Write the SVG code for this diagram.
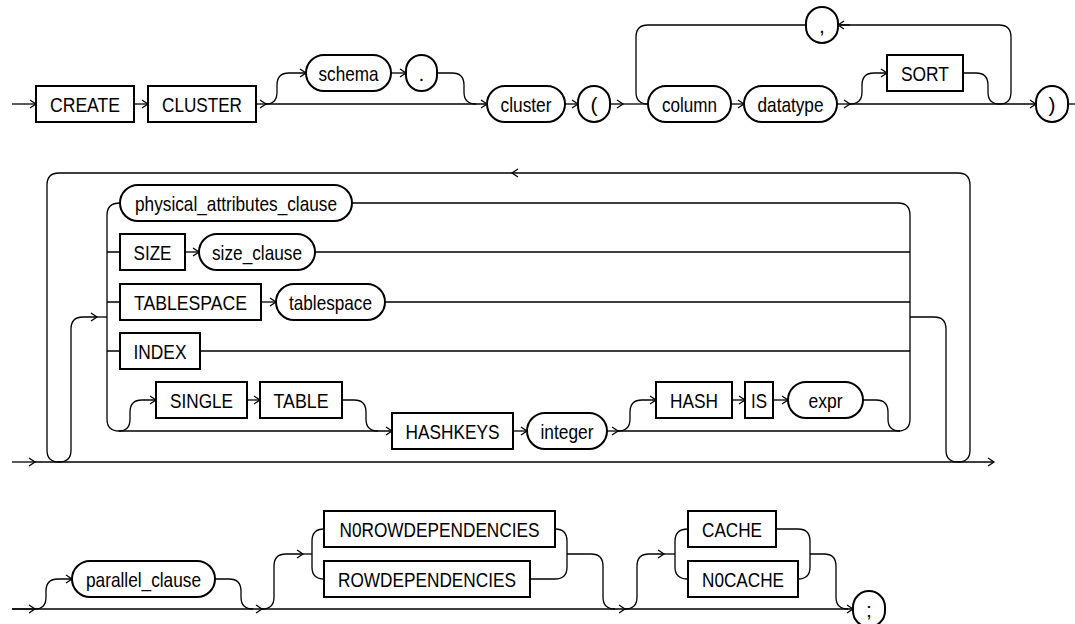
<svg xmlns="http://www.w3.org/2000/svg" width="1075" height="624" viewBox="0 0 1075 624">
<style>
.b{fill:#fff;stroke:#000;stroke-width:2}
.l{fill:none;stroke:#000;stroke-width:1.3}
.a{fill:none;stroke:#000;stroke-width:1.3;marker-end:url(#ar)}
text{font-family:"Liberation Sans Narrow","Liberation Sans",Arial,sans-serif;font-size:21px;text-anchor:middle;fill:#000}
</style>
<defs>
<marker id="ar" markerUnits="userSpaceOnUse" markerWidth="10" markerHeight="10" refX="7" refY="5" orient="auto">
<path d="M1,1 L7,5 L1,9" fill="none" stroke="#000" stroke-width="1.3"/>
</marker>
</defs>
<rect width="1075" height="624" fill="#fff"/>
<g id="connectors">
<!-- row 1 -->
<path class="a" d="M12,104 H36"/>
<path class="a" d="M134,104 H148"/>
<path class="a" d="M256,104 H266"/>
<path class="a" d="M266,104 H487"/>
<path class="a" d="M266,104 Q277,104 277,92 V85 Q277,73 289,73 H306"/>
<path class="a" d="M391,73 H406"/>
<path class="l" d="M437,73 H452 Q464,73 464,85 V92 Q464,104 476,104"/>
<path class="a" d="M565,104 H578"/>
<path class="a" d="M610,104 H623"/>
<path class="l" d="M623,104 H648"/>
<path class="l" d="M963,73 H976 Q988,73 988,85 V92 Q988,104 999.5,104 Q1011,104 1011,92 V37 Q1011,25 999,25 H840"/>
<path class="a" d="M850,25 H838"/>
<path class="l" d="M806,25 H648 Q636,25 636,37 V92 Q636,104 648,104"/>
<path class="a" d="M731,104 H744"/>
<path class="a" d="M837,104 H850"/>
<path class="a" d="M850,104 H1036"/>
<path class="a" d="M850,104 Q862,104 862,92 V85 Q862,73 874,73 H887"/>
<path class="l" d="M1068,104 H1075"/>
<!-- row 2 -->
<path class="a" d="M12,462 H35"/>
<path class="a" d="M35,462 H994"/>
<path class="a" d="M910,317 H934 Q946,317 946,329 V450 Q946,462 958,462 Q970,462 970,450 V185 Q970,173 958,173 H512"/>
<path class="a" d="M512,173 H59 Q47,173 47,185 V450 Q47,462 59,462 Q71,462 71,450 V329 Q71,317 83,317 H97"/>
<path class="l" d="M97,317 H107"/>
<path class="a" d="M120,203 Q107,203 107,215 V419 Q107,431 119,431 H392"/>
<path class="l" d="M107,252 H120 M107,302 H120 M107,351 H120"/>
<path class="l" d="M352,203 H898 Q910,203 910,215 V419 Q910,431 898,431 H618"/>
<path class="l" d="M315,252 H910 M385,302 H910 M200,351 H910"/>
<path class="a" d="M185,252 H199"/>
<path class="a" d="M261,302 H276"/>
<path class="a" d="M119,431 Q130,431 130,419 V412 Q130,400 142,400 H156"/>
<path class="a" d="M247,400 H260"/>
<path class="l" d="M342,400 H354 Q366,400 366,412 V419 Q366,431 378,431"/>
<path class="a" d="M513,431 H527"/>
<path class="a" d="M607,431 H618"/>
<path class="a" d="M618,431 Q630,431 630,419 V412 Q630,400 642,400 H656"/>
<path class="a" d="M732,400 H745"/>
<path class="a" d="M773,400 H788"/>
<path class="l" d="M863,400 H876 Q888,400 888,412 V419 Q888,431 900,431"/>
<!-- row 3 -->
<path class="a" d="M12,609 H35" style="stroke-width:1.8"/>
<path class="a" d="M35,609 H262"/>
<path class="a" d="M262,609 H625"/>
<path class="a" d="M625,609 H853"/>
<path class="a" d="M35,609 Q46,609 46,597 V591 Q46,579 58,579 H72"/>
<path class="l" d="M215,579 H229 Q241,579 241,591 V597 Q241,609 253,609"/>
<path class="a" d="M262,609 Q274,609 274,597 V566 Q274,554 286,554 H303"/>
<path class="l" d="M303,554 H312"/>
<path class="l" d="M324,529 Q312,529 312,541 V567 Q312,579 324,579"/>
<path class="l" d="M555,529 Q567,529 567,541 V567 Q567,579 555,579 H530"/>
<path class="l" d="M567,554 H591 Q603,554 603,566 V597 Q603,609 615,609"/>
<path class="a" d="M625,609 Q637,609 637,597 V566 Q637,554 649,554 H664"/>
<path class="l" d="M664,554 H675"/>
<path class="l" d="M688,529 Q675,529 675,541 V567 Q675,579 688,579"/>
<path class="l" d="M776,529 H798 Q810,529 810,541 V567 Q810,579 798,579"/>
<path class="l" d="M810,554 H824 Q836,554 836,566 V597 Q836,609 848,609"/>
</g>
<g id="n_create"><rect class="b" x="36" y="86" width="98" height="36"/><text x="85" y="111.5" textLength="70" lengthAdjust="spacingAndGlyphs">CREATE</text></g>
<g id="n_cluster_kw"><rect class="b" x="148" y="86" width="108" height="36"/><text x="202" y="111.5" textLength="80" lengthAdjust="spacingAndGlyphs">CLUSTER</text></g>
<g id="n_schema"><rect class="b" x="306" y="55" width="85" height="36" rx="18"/><text x="348.5" y="80.5" textLength="60" lengthAdjust="spacingAndGlyphs">schema</text></g>
<g id="n_dot"><rect class="b" x="406" y="55" width="31" height="36" rx="15.5"/><text x="421.5" y="80.5">.</text></g>
<g id="n_cluster"><rect class="b" x="487" y="86" width="78" height="36" rx="18"/><text x="526" y="111.5" textLength="51" lengthAdjust="spacingAndGlyphs">cluster</text></g>
<g id="n_lparen"><rect class="b" x="578" y="86" width="32" height="36" rx="16"/><text x="594" y="111.5">(</text></g>
<g id="n_column"><rect class="b" x="648" y="86" width="83" height="36" rx="18"/><text x="689.5" y="111.5" textLength="55" lengthAdjust="spacingAndGlyphs">column</text></g>
<g id="n_datatype"><rect class="b" x="744" y="86" width="93" height="36" rx="18"/><text x="790.5" y="111.5" textLength="66" lengthAdjust="spacingAndGlyphs">datatype</text></g>
<g id="n_sort"><rect class="b" x="887" y="55" width="76" height="36"/><text x="925" y="80.5" textLength="48" lengthAdjust="spacingAndGlyphs">SORT</text></g>
<g id="n_comma"><rect class="b" x="806" y="7" width="32" height="36" rx="16"/><text x="822" y="32.5">,</text></g>
<g id="n_rparen"><rect class="b" x="1036" y="86" width="32" height="36" rx="16"/><text x="1052" y="111.5">)</text></g>
<g id="n_physical"><rect class="b" x="120" y="185" width="232" height="36" rx="18"/><text x="236" y="210.5" textLength="202" lengthAdjust="spacingAndGlyphs">physical_attributes_clause</text></g>
<g id="n_size"><rect class="b" x="120" y="234" width="65" height="36"/><text x="152.5" y="259.5" textLength="38" lengthAdjust="spacingAndGlyphs">SIZE</text></g>
<g id="n_size_clause"><rect class="b" x="199" y="234" width="116" height="36" rx="18"/><text x="257" y="259.5" textLength="90" lengthAdjust="spacingAndGlyphs">size_clause</text></g>
<g id="n_tablespace_kw"><rect class="b" x="120" y="284" width="141" height="36"/><text x="190.5" y="309.5" textLength="113" lengthAdjust="spacingAndGlyphs">TABLESPACE</text></g>
<g id="n_tablespace"><rect class="b" x="276" y="284" width="109" height="36" rx="18"/><text x="330.5" y="309.5" textLength="83" lengthAdjust="spacingAndGlyphs">tablespace</text></g>
<g id="n_index"><rect class="b" x="120" y="333" width="80" height="36"/><text x="160" y="358.5" textLength="53" lengthAdjust="spacingAndGlyphs">INDEX</text></g>
<g id="n_single"><rect class="b" x="156" y="382" width="91" height="36"/><text x="201.5" y="407.5" textLength="63" lengthAdjust="spacingAndGlyphs">SINGLE</text></g>
<g id="n_table"><rect class="b" x="260" y="382" width="82" height="36"/><text x="301" y="407.5" textLength="55" lengthAdjust="spacingAndGlyphs">TABLE</text></g>
<g id="n_hashkeys"><rect class="b" x="392" y="413" width="121" height="36"/><text x="452.5" y="438.5" textLength="94" lengthAdjust="spacingAndGlyphs">HASHKEYS</text></g>
<g id="n_integer"><rect class="b" x="527" y="413" width="80" height="36" rx="18"/><text x="567" y="438.5" textLength="53" lengthAdjust="spacingAndGlyphs">integer</text></g>
<g id="n_hash"><rect class="b" x="656" y="382" width="76" height="36"/><text x="694" y="407.5" textLength="48" lengthAdjust="spacingAndGlyphs">HASH</text></g>
<g id="n_is"><rect class="b" x="745" y="382" width="28" height="36"/><text x="759" y="407.5" textLength="16" lengthAdjust="spacingAndGlyphs">IS</text></g>
<g id="n_expr"><rect class="b" x="788" y="382" width="75" height="36" rx="18"/><text x="825.5" y="407.5" textLength="34" lengthAdjust="spacingAndGlyphs">expr</text></g>
<g id="n_parallel"><rect class="b" x="72" y="561" width="143" height="36" rx="18"/><text x="143.5" y="586.5" textLength="115" lengthAdjust="spacingAndGlyphs">parallel_clause</text></g>
<g id="n_norowdep"><rect class="b" x="324" y="511" width="231" height="36"/><text x="439.5" y="536.5" textLength="200" lengthAdjust="spacingAndGlyphs">N0ROWDEPENDENCIES</text></g>
<g id="n_rowdep"><rect class="b" x="324" y="561" width="206" height="36"/><text x="427" y="586.5" textLength="178" lengthAdjust="spacingAndGlyphs">ROWDEPENDENCIES</text></g>
<g id="n_cache"><rect class="b" x="688" y="511" width="88" height="36"/><text x="732" y="536.5" textLength="60" lengthAdjust="spacingAndGlyphs">CACHE</text></g>
<g id="n_nocache"><rect class="b" x="688" y="561" width="110" height="36"/><text x="743" y="586.5" textLength="82" lengthAdjust="spacingAndGlyphs">N0CACHE</text></g>
<g id="n_semicolon"><rect class="b" x="853" y="591" width="32" height="36" rx="16"/><text x="869" y="616.5">;</text></g>
</svg>
